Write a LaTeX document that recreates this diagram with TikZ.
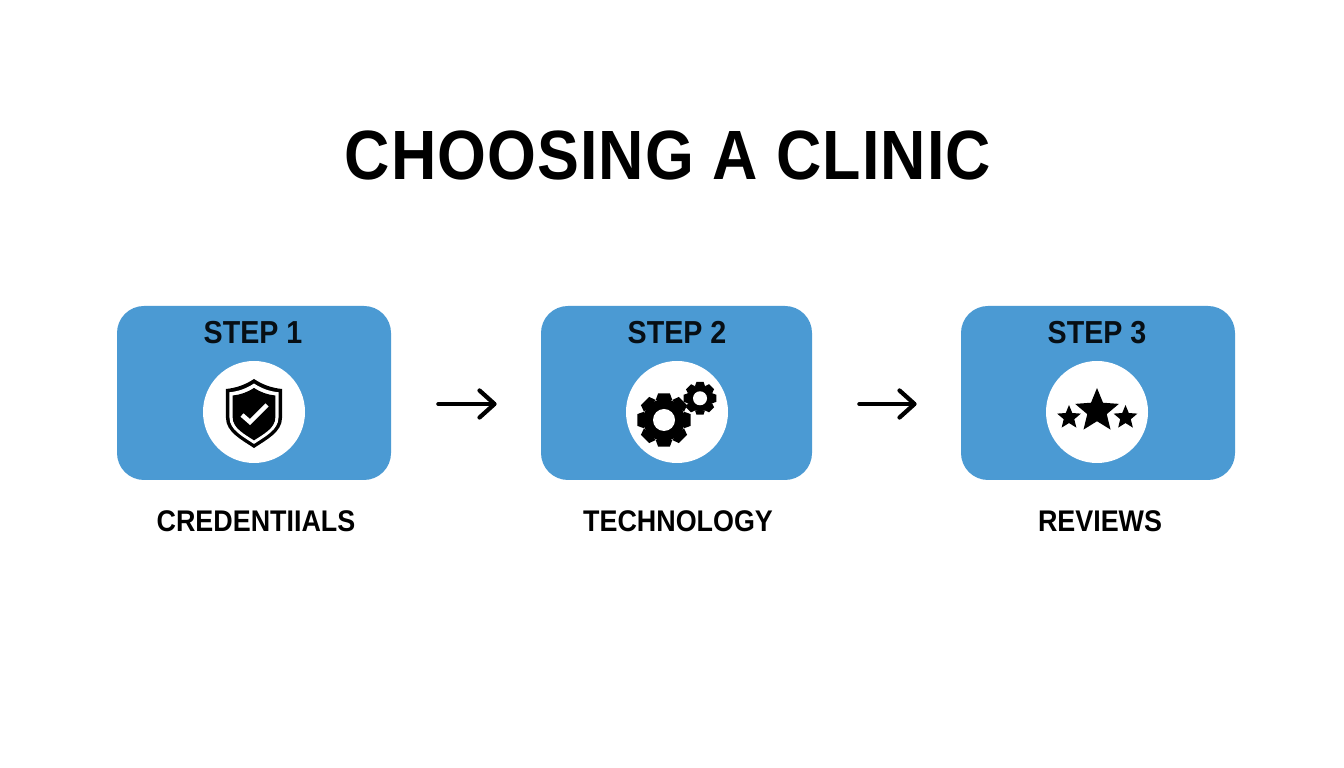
\documentclass[tikz,border=0pt]{standalone}
\usepackage{fontspec}
\setmainfont{Liberation Sans}[FakeStretch=0.9]
\usetikzlibrary{arrows.meta,shapes.geometric}
\definecolor{stepblue}{HTML}{4B9AD3}
\tikzset{
	stepbox/.style={fill=stepblue,rounded corners=0.54cm,minimum height=3.48cm,inner sep=0},
	iconcircle/.style={circle,fill=white,minimum size=2.04cm,inner sep=0},
	steptext/.style={font=\fontsize{18.1}{20}\selectfont\bfseries,text=black!90!stepblue,inner sep=0},
	nametext/.style={font=\fontsize{17}{20}\selectfont\bfseries,text=black,inner sep=0},
	flowarrow/.style={-{Straight Barb[length=0.3cm,width=0.54cm,round]},line width=0.085cm,line cap=round,black,shorten <=0.94cm,shorten >=0.88cm},
	starmark/.style={star,star points=5,star point ratio=2.25,fill=black,inner sep=0}
}
\newcommand{\gearicon}[3]{
	\fill (0,0) circle (#1);
	\foreach \a in {0,45,...,315}
		\fill[rotate=\a] (-0.31*#2,#1-1) -- (-0.22*#2,#2) -- (0.22*#2,#2) -- (0.31*#2,#1-1) -- cycle;
	\fill[white] (0,0) circle (#3);
}
\newcommand{\shieldpath}{
	(0,33) .. controls (-9,27) and (-18,24) .. (-28,23) -- (-28,-6)
	.. controls (-28,-20) and (-12,-28) .. (0,-36)
	.. controls (12,-28) and (28,-20) .. (28,-6) -- (28,23)
	.. controls (18,24) and (9,27) .. (0,33) -- cycle
}
\begin{document}
\begin{tikzpicture}
	\useasboundingbox (0,0) rectangle (26.88,15.36);
	\fill[white] (0,0) rectangle (26.88,15.36);
	
	\node (title) at (13.36,12.26)[font=\fontsize{39.7}{42}\selectfont\bfseries\addfontfeature{LetterSpace=1.5},inner sep=0]{CHOOSING A CLINIC};
	
	\node (stepa) at (5.08,7.50)[stepbox,minimum width=5.48cm]{};
	\node (stepb) at (13.53,7.50)[stepbox,minimum width=5.42cm]{};
	\node (stepc) at (21.96,7.50)[stepbox,minimum width=5.48cm]{};
	
	\node (stepatext) at (5.06,8.70)[steptext]{STEP 1};
	\node (stepbtext) at (13.54,8.70)[steptext]{STEP 2};
	\node (stepctext) at (21.94,8.70)[steptext]{STEP 3};
	
	\node (icona) at (5.08,7.12)[iconcircle]{};
	\node (iconb) at (13.54,7.12)[iconcircle]{};
	\node (iconc) at (21.94,7.12)[iconcircle]{};
	
	\node (namea) at (5.12,4.94)[nametext]{CREDENTIIALS};
	\node (nameb) at (13.56,4.94)[nametext]{TECHNOLOGY};
	\node (namec) at (22.00,4.94)[nametext]{REVIEWS};
	
	\draw[flowarrow] ([yshift=-0.22cm]stepa.east) -- ([yshift=-0.22cm]stepb.west);
	\draw[flowarrow] ([yshift=-0.22cm]stepb.east) -- ([yshift=-0.22cm]stepc.west);
	
	% shield
	\begin{scope}[shift={(icona.center)},x=0.02cm,y=0.02cm]
		\fill \shieldpath;
		\fill[white,shift={(0,-0.4)},scale=0.875] \shieldpath;
		\fill[shift={(0,-1)},scale=0.76] \shieldpath;
		\draw[white,line width=0.09cm] (-12,-3) -- (-4,-10) -- (13,7);
	\end{scope}
	
	% gears
	\begin{scope}[shift={(iconb.center)},x=0.02cm,y=0.02cm,shift={(-13,-8)}]
		\gearicon{21}{26.7}{11}
	\end{scope}
	\begin{scope}[shift={(iconb.center)},x=0.02cm,y=0.02cm,shift={(23,13.7)}]
		\gearicon{13}{16.3}{7}
	\end{scope}
	
	% stars
	\node (starmid) at ([yshift=0.02cm]iconc.center)[starmark,minimum size=0.92cm]{};
	\node (starleft) at ([xshift=-0.56cm,yshift=-0.11cm]iconc.center)[starmark,minimum size=0.50cm]{};
	\node (starright) at ([xshift=0.57cm,yshift=-0.11cm]iconc.center)[starmark,minimum size=0.50cm]{};
\end{tikzpicture}
\end{document}
